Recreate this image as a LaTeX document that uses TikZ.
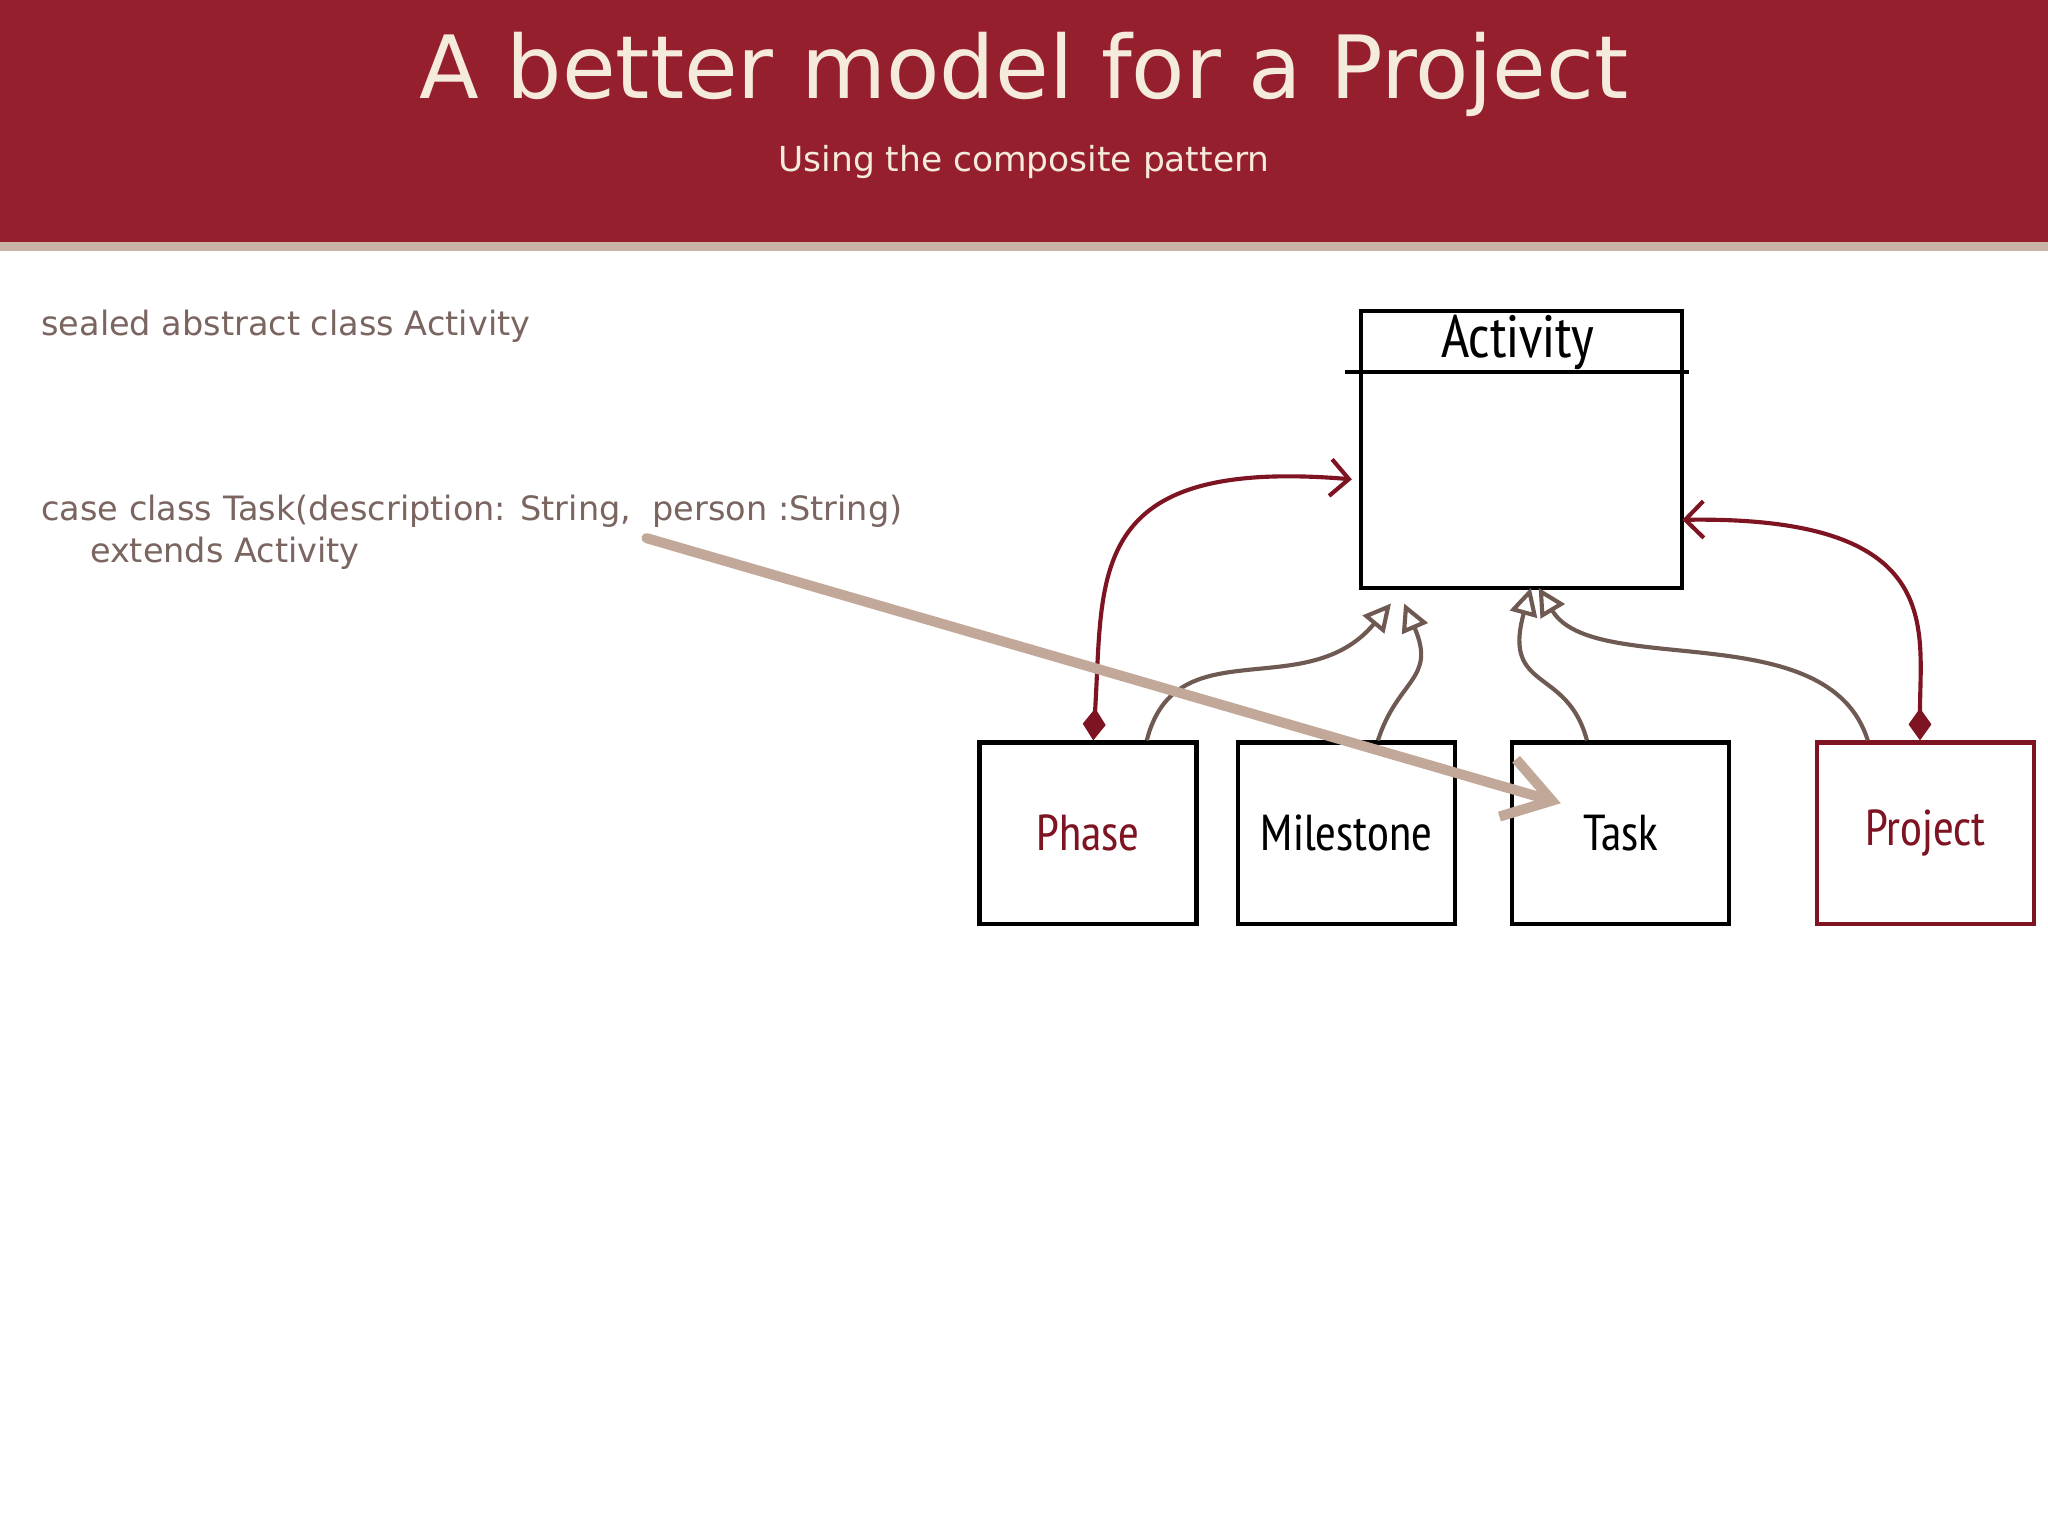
\documentclass[tikz,border=0pt]{standalone}
\usepackage{fontspec}
\setmainfont{DejaVu Sans}
\newfontfamily\hand{PT Sans Narrow}
\usetikzlibrary{arrows.meta}
\definecolor{hdr}{HTML}{961F2E}
\definecolor{stripe}{HTML}{C9B3A6}
\definecolor{cream}{HTML}{F5EBDC}
\definecolor{txt}{HTML}{7A6560}
\definecolor{dred}{HTML}{7E1422}
\definecolor{inh}{HTML}{6E5A52}
\definecolor{beige}{HTML}{C2A898}
\tikzset{cls/.style={draw=black,line width=0.9pt,inner sep=0pt,minimum width=1.66cm,minimum height=1.39cm,font=\hand\fontsize{11pt}{13pt}\selectfont},
comp/.style={draw=dred,line width=0.9pt,{Diamond[length=7pt,width=5pt,fill=dred]}-{Straight Barb[length=4pt]}},
gen/.style={draw=inh,line width=0.9pt,-{Triangle[open,length=6pt,width=6pt,fill=white]}}}
\begin{document}
\begin{tikzpicture}[x=0.01cm,y=-0.01cm]
\useasboundingbox (0,0) rectangle (1568,1176);
\fill[white] (0,0) rectangle (1568,1176);
\fill[hdr] (0,0) rectangle (1568,185);
\fill[stripe] (0,185) rectangle (1568,192);
\node[cream,font=\fontsize{19pt}{22pt}\selectfont] (title) at (784,57) {A better model for a Project};
\node[cream,font=\fontsize{7.5pt}{9pt}\selectfont] (sub) at (784,124) {Using the composite pattern};
\node[txt,anchor=west,inner sep=0pt,font=\fontsize{7.3pt}{9pt}\selectfont] (t1) at (31,250) {sealed abstract class Activity};
\node[txt,anchor=north west,inner sep=0pt,align=left,font=\fontsize{7.3pt}{9.2pt}\selectfont] (t2) at (31,378) {case class Task(description: String,\ \ person :String)\\\hspace{1.45em}extends Activity};
% Activity
\node[draw,line width=0.9pt,minimum width=2.46cm,minimum height=2.12cm] (act) at (1165,344) {};
\draw[line width=0.9pt] (1030,285) -- (1293,285);
\node[font=\hand\fontsize{13pt}{15pt}\selectfont] (actl) at (1162,262) {Activity};
\node[cls,text=dred] (ph) at (833,638) {Phase};
\node[cls] (mi) at (1031,638) {Milestone};
\node[cls] (ta) at (1241,638) {Task};
\node[cls,draw=dred,text=dred] (pr) at (1474,638) {Project};
% composition
\draw[comp] (ph.north -| 837,0) .. controls (845,440) and (830,350) .. (1035,367);
\draw[comp] (pr.north -| 1470,0) .. controls (1470,480) and (1490,395) .. (1288,398);
% generalization
\draw[gen] (ph.north -| 878,0) .. controls (900,480) and (1000,540) .. (1065,462);
\draw[gen] (mi.north -| 1055,0) .. controls (1070,520) and (1100,520) .. (1075,462);
\draw[gen] (ta.north -| 1215,0) .. controls (1200,510) and (1150,530) .. (1172,450);
\draw[gen] (pr.north -| 1430,0) .. controls (1400,470) and (1220,520) .. (1178,450);
% big beige arrow
\coordinate (bs) at (495,412);
\coordinate (be) at (1195,615);
\draw[beige,line width=2.2pt,line cap=round,-{Straight Barb[length=10pt,width=13pt]}] (bs) -- (be);
\end{tikzpicture}
\end{document}
